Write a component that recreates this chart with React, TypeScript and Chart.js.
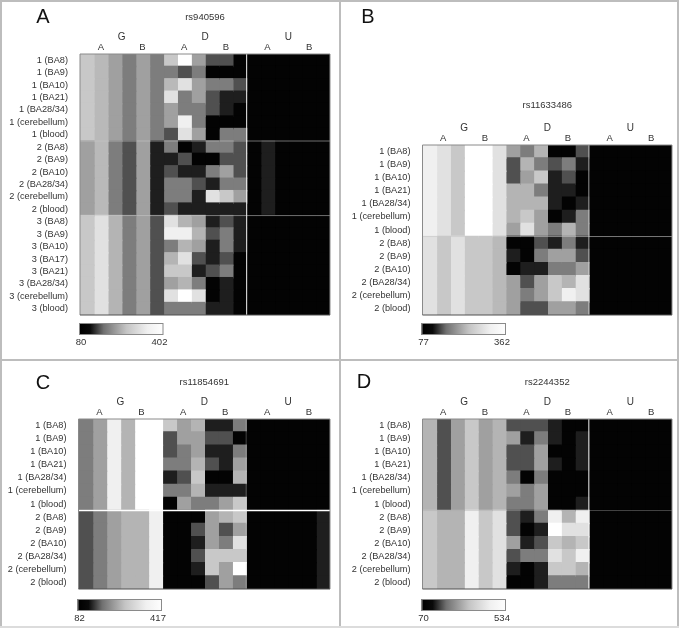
import React, { useEffect, useRef } from "react";
import { Chart, registerables } from "chart.js";

Chart.register(...registerables);

const FONT = "'Liberation Sans', Arial, sans-serif";

const rowLabelsA = [
  "1 (BA8)", "1 (BA9)", "1 (BA10)", "1 (BA21)", "1 (BA28/34)", "1 (cerebellum)", "1 (blood)",
  "2 (BA8)", "2 (BA9)", "2 (BA10)", "2 (BA28/34)", "2 (cerebellum)", "2 (blood)",
  "3 (BA8)", "3 (BA9)", "3 (BA10)", "3 (BA17)", "3 (BA21)", "3 (BA28/34)", "3 (cerebellum)", "3 (blood)",
];
const rowLabelsShort = [
  "1 (BA8)", "1 (BA9)", "1 (BA10)", "1 (BA21)", "1 (BA28/34)", "1 (cerebellum)", "1 (blood)",
  "2 (BA8)", "2 (BA9)", "2 (BA10)", "2 (BA28/34)", "2 (cerebellum)", "2 (blood)",
];
const groupLabels = ["G", "D", "U"];
const subLabels = ["A", "B"];

const valuesA = [
  [333, 314, 282, 238, 282, 238, 333, 402, 282, 181, 181, 84, 84, 84, 84, 84, 84, 84],
  [333, 314, 282, 238, 282, 238, 238, 181, 238, 84, 84, 84, 84, 84, 84, 84, 84, 84],
  [333, 314, 282, 238, 282, 238, 314, 364, 282, 238, 238, 181, 84, 84, 84, 84, 84, 84],
  [333, 314, 282, 238, 282, 238, 364, 238, 282, 181, 118, 118, 84, 84, 84, 84, 84, 84],
  [333, 314, 282, 238, 282, 238, 282, 238, 238, 181, 118, 84, 84, 84, 84, 84, 84, 84],
  [333, 314, 282, 238, 282, 238, 282, 383, 238, 84, 84, 84, 84, 84, 84, 84, 84, 84],
  [333, 314, 282, 238, 282, 238, 181, 364, 282, 84, 238, 238, 84, 84, 84, 84, 84, 84],
  [282, 314, 238, 181, 282, 118, 238, 84, 118, 238, 238, 181, 84, 118, 84, 84, 84, 84],
  [282, 314, 238, 181, 282, 118, 118, 181, 84, 84, 181, 181, 84, 118, 84, 84, 84, 84],
  [282, 314, 238, 181, 282, 118, 181, 118, 118, 238, 282, 181, 84, 118, 84, 84, 84, 84],
  [282, 314, 238, 181, 282, 118, 238, 238, 181, 118, 238, 238, 84, 118, 84, 84, 84, 84],
  [282, 314, 238, 181, 282, 118, 238, 238, 118, 364, 333, 282, 84, 118, 84, 84, 84, 84],
  [282, 314, 238, 181, 282, 118, 181, 118, 118, 118, 118, 118, 84, 118, 84, 84, 84, 84],
  [333, 364, 307, 238, 282, 181, 364, 307, 282, 118, 181, 118, 84, 84, 84, 84, 84, 84],
  [333, 364, 307, 238, 282, 181, 383, 383, 307, 181, 238, 118, 84, 84, 84, 84, 84, 84],
  [333, 364, 307, 238, 282, 181, 238, 307, 282, 118, 238, 118, 84, 84, 84, 84, 84, 84],
  [333, 364, 307, 238, 282, 181, 307, 364, 181, 118, 181, 84, 84, 84, 84, 84, 84, 84],
  [333, 364, 307, 238, 282, 181, 333, 333, 118, 181, 238, 84, 84, 84, 84, 84, 84, 84],
  [333, 364, 307, 238, 282, 181, 282, 307, 238, 84, 118, 84, 84, 84, 84, 84, 84, 84],
  [333, 364, 307, 238, 282, 181, 364, 402, 364, 84, 118, 84, 84, 84, 84, 84, 84, 84],
  [333, 364, 307, 238, 282, 181, 238, 238, 238, 118, 118, 84, 84, 84, 84, 84, 84, 84],
];

const valuesB = [
  [345, 328, 301, 362, 362, 328, 256, 217, 278, 80, 80, 166, 80, 80, 80, 80, 80, 80],
  [345, 328, 301, 362, 362, 328, 166, 278, 217, 166, 217, 111, 80, 80, 80, 80, 80, 80],
  [345, 328, 301, 362, 362, 328, 166, 256, 301, 111, 166, 80, 80, 80, 80, 80, 80, 80],
  [345, 328, 301, 362, 362, 328, 278, 278, 217, 111, 111, 80, 80, 80, 80, 80, 80, 80],
  [345, 328, 301, 362, 362, 328, 278, 278, 278, 111, 80, 111, 80, 80, 80, 80, 80, 80],
  [345, 328, 301, 362, 362, 328, 278, 301, 256, 80, 111, 217, 80, 80, 80, 80, 80, 80],
  [345, 328, 301, 362, 362, 328, 256, 328, 256, 217, 278, 217, 80, 80, 80, 80, 80, 80],
  [328, 301, 328, 301, 301, 284, 80, 80, 166, 111, 217, 111, 80, 80, 80, 80, 80, 80],
  [328, 301, 328, 301, 301, 284, 111, 80, 217, 256, 256, 166, 80, 80, 80, 80, 80, 80],
  [328, 301, 328, 301, 301, 284, 80, 111, 111, 217, 217, 256, 80, 80, 80, 80, 80, 80],
  [328, 301, 328, 301, 301, 284, 256, 166, 256, 301, 278, 328, 80, 80, 80, 80, 80, 80],
  [328, 301, 328, 301, 301, 284, 256, 217, 256, 301, 345, 328, 80, 80, 80, 80, 80, 80],
  [328, 301, 328, 301, 301, 284, 256, 166, 166, 256, 256, 217, 80, 80, 80, 80, 80, 80],
];

const valuesC = [
  [246, 292, 397, 318, 417, 417, 345, 292, 318, 121, 121, 246, 86, 86, 86, 86, 86, 86],
  [246, 292, 397, 318, 417, 417, 187, 292, 292, 187, 187, 86, 86, 86, 86, 86, 86, 86],
  [246, 292, 397, 318, 417, 417, 187, 246, 292, 121, 121, 246, 86, 86, 86, 86, 86, 86],
  [246, 292, 397, 318, 417, 417, 246, 246, 318, 187, 121, 292, 86, 86, 86, 86, 86, 86],
  [246, 292, 397, 318, 417, 417, 121, 187, 345, 86, 86, 318, 86, 86, 86, 86, 86, 86],
  [246, 292, 397, 318, 417, 417, 246, 246, 318, 121, 121, 121, 86, 86, 86, 86, 86, 86],
  [246, 292, 397, 318, 417, 417, 86, 292, 246, 246, 292, 345, 86, 86, 86, 86, 86, 86],
  [187, 246, 292, 318, 318, 397, 86, 86, 86, 292, 318, 345, 86, 86, 86, 86, 86, 121],
  [187, 246, 292, 318, 318, 397, 86, 86, 187, 292, 187, 292, 86, 86, 86, 86, 86, 121],
  [187, 246, 292, 318, 318, 397, 86, 86, 121, 292, 246, 378, 86, 86, 86, 86, 86, 121],
  [187, 246, 292, 318, 318, 397, 86, 86, 187, 345, 345, 345, 86, 86, 86, 86, 86, 121],
  [187, 246, 292, 318, 318, 397, 86, 86, 121, 345, 292, 417, 86, 86, 86, 86, 86, 121],
  [187, 246, 292, 318, 318, 397, 86, 86, 86, 187, 292, 246, 86, 86, 86, 86, 86, 121],
];

const valuesD = [
  [398, 216, 361, 434, 361, 398, 216, 216, 216, 125, 75, 75, 75, 75, 75, 75, 75, 75],
  [398, 216, 361, 434, 361, 398, 361, 125, 297, 125, 75, 125, 75, 75, 75, 75, 75, 75],
  [398, 216, 361, 434, 361, 398, 216, 216, 361, 75, 75, 125, 75, 75, 75, 75, 75, 75],
  [398, 216, 361, 434, 361, 398, 216, 216, 361, 125, 75, 125, 75, 75, 75, 75, 75, 75],
  [398, 216, 361, 434, 361, 398, 297, 75, 297, 75, 75, 75, 75, 75, 75, 75, 75, 75],
  [398, 216, 361, 434, 361, 398, 361, 297, 361, 75, 75, 75, 75, 75, 75, 75, 75, 75],
  [398, 216, 361, 434, 361, 398, 297, 297, 361, 75, 75, 125, 75, 75, 75, 75, 75, 75],
  [434, 398, 398, 507, 434, 479, 216, 125, 297, 507, 398, 507, 75, 75, 75, 75, 75, 75],
  [434, 398, 398, 507, 434, 479, 216, 75, 125, 534, 479, 479, 75, 75, 75, 75, 75, 75],
  [434, 398, 398, 507, 434, 479, 361, 125, 216, 434, 398, 434, 75, 75, 75, 75, 75, 75],
  [434, 398, 398, 507, 434, 479, 216, 297, 297, 479, 434, 507, 75, 75, 75, 75, 75, 75],
  [434, 398, 398, 507, 434, 479, 125, 75, 125, 434, 434, 398, 75, 75, 75, 75, 75, 75],
  [434, 398, 398, 507, 434, 479, 75, 75, 125, 297, 297, 297, 75, 75, 75, 75, 75, 75],
];

type Panel = {
  letter: string; title: string; labels: string[]; values: number[][];
  min: number; max: number; breaks: number[];
  box: [number, number, number, number];
  area: [number, number, number, number];
  letterAt: [number, number]; titleY: number; groupY: number;
  barY: number; sepColor: string; sepWidth: number; midLine: string;
};

const panels: Panel[] = [
  { letter: "A", title: "rs940596", labels: rowLabelsA, values: valuesA, min: 80, max: 402, breaks: [7, 13],
    box: [0, 0, 340, 360], area: [80, 54, 330, 315], letterAt: [43, 17], titleY: 17, groupY: 37,
    barY: 323, sepColor: "rgba(200,200,200,0.55)", sepWidth: 1, midLine: "#f4f4f4" },
  { letter: "B", title: "rs11633486", labels: rowLabelsShort, values: valuesB, min: 77, max: 362, breaks: [7],
    box: [340, 0, 339, 360], area: [82.5, 145, 332, 315], letterAt: [28, 17], titleY: 105, groupY: 128,
    barY: 323, sepColor: "rgba(200,200,200,0.6)", sepWidth: 1, midLine: "rgba(220,220,220,0.7)" },
  { letter: "C", title: "rs11854691", labels: rowLabelsShort, values: valuesC, min: 82, max: 417, breaks: [7],
    box: [0, 360, 340, 268], area: [78.5, 59, 330, 229], letterAt: [43, 23], titleY: 22, groupY: 42,
    barY: 239, sepColor: "#ffffff", sepWidth: 1.6, midLine: "rgba(230,230,230,0.3)" },
  { letter: "D", title: "rs2244352", labels: rowLabelsShort, values: valuesD, min: 70, max: 534, breaks: [7],
    box: [340, 360, 339, 268], area: [82.5, 59, 332, 229], letterAt: [24, 22], titleY: 22, groupY: 42,
    barY: 239, sepColor: "rgba(170,170,170,0.4)", sepWidth: 1, midLine: "#f4f4f4" },
];

function gray(v: number, min: number, max: number) {
  const g = Math.round(((v - min) / (max - min)) * 255);
  return `rgb(${g},${g},${g})`;
}

function makeChart(canvas: HTMLCanvasElement, p: Panel) {
  const [l, t, r, b] = p.area;
  const [, , bw, bh] = p.box;
  const decor = {
    id: "decor",
    afterDatasetsDraw(chart: any) {
      const c = chart.ctx;
      const { left, right, top, bottom } = chart.chartArea;
      const x = chart.scales.x;
      const y = chart.scales.y;
      c.save();
      c.fillStyle = "#fff";
      c.fillRect(left - 2, bottom + 0.5, right - left + 4, 3);
      c.strokeStyle = p.sepColor;
      c.lineWidth = p.sepWidth;
      p.breaks.forEach((n) => {
        const py = (y.getPixelForValue(n - 1) + y.getPixelForValue(n)) / 2;
        c.beginPath(); c.moveTo(left, py); c.lineTo(right, py); c.stroke();
      });
      c.strokeStyle = p.midLine;
      c.lineWidth = 1;
      const mid = x.getPixelForValue(12);
      c.beginPath(); c.moveTo(mid, top); c.lineTo(mid, bottom); c.stroke();
      c.strokeStyle = "#8a8a8a";
      c.beginPath(); c.moveTo(left, bottom); c.lineTo(left, top); c.lineTo(right, top); c.lineTo(right, bottom); c.stroke();
      c.strokeStyle = "#505050";
      c.beginPath(); c.moveTo(left, bottom); c.lineTo(right, bottom); c.stroke();

      c.fillStyle = "#333";
      c.textAlign = "center";
      c.textBaseline = "middle";
      c.font = `9.5px ${FONT}`;
      c.fillText(p.title, x.getPixelForValue(9), p.titleY);
      c.font = `10px ${FONT}`;
      groupLabels.forEach((g, i) => c.fillText(g, x.getPixelForValue(3 + i * 6), p.groupY));
      c.fillStyle = "#111";
      c.font = `20px ${FONT}`;
      c.fillText(p.letter, p.letterAt[0], p.letterAt[1]);

      const barW = 84.5;
      const grad = c.createLinearGradient(left, 0, left + barW, 0);
      grad.addColorStop(0, "#000");
      grad.addColorStop(0.12, "#0a0a0a");
      grad.addColorStop(0.28, "#707070");
      grad.addColorStop(0.55, "#c4c4c4");
      grad.addColorStop(0.8, "#f0f0f0");
      grad.addColorStop(1, "#fff");
      c.fillStyle = grad;
      c.fillRect(left - 1, p.barY, barW, 12);
      c.strokeStyle = "#8a8a8a";
      c.lineWidth = 1;
      c.strokeRect(left - 1 + 0.5, p.barY + 0.5, barW - 1, 11);
      c.fillStyle = "#333";
      c.font = `9.5px ${FONT}`;
      c.fillText(String(p.min), left - 1 + 2, p.barY + 19);
      c.fillText(String(p.max), left - 1 + barW - 4, p.barY + 19);
      c.restore();
    },
  };
  return new Chart(canvas, {
    type: "bar",
    data: {
      labels: p.labels,
      datasets: Array.from({ length: 18 }, (_, col) => ({
        label: `${groupLabels[Math.floor(col / 6)]}${col}`,
        data: p.values.map(() => [col, col + 1]),
        backgroundColor: p.values.map((row) => gray(row[col], p.min, p.max)),
        borderWidth: 0,
        inflateAmount: 0.75,
        barPercentage: 1,
        categoryPercentage: 1,
        grouped: false,
      })),
    } as any,
    options: {
      indexAxis: "y",
      animation: false,
      responsive: false,
      events: [],
      layout: { padding: { left: 0, top: 0, right: bw - r, bottom: bh - b } },
      plugins: { legend: { display: false }, tooltip: { enabled: false }, title: { display: false } },
      scales: {
        x: {
          type: "linear",
          position: "top",
          min: 0,
          max: 18,
          grid: { display: false, drawTicks: false },
          border: { display: false },
          afterBuildTicks: (s: any) => {
            s.ticks = [1.5, 4.5, 7.5, 10.5, 13.5, 16.5].map((value) => ({ value }));
          },
          afterFit: (s: any) => { s.height = t; },
          ticks: {
            autoSkip: false,
            maxRotation: 0,
            padding: 1,
            color: "#333",
            font: { family: FONT, size: 9.5 },
            callback: (_: any, i: number) => subLabels[i % 2],
          },
        },
        y: {
          type: "category",
          grid: { display: false, drawTicks: false },
          border: { display: false },
          afterFit: (s: any) => { s.width = l; },
          ticks: {
            autoSkip: false,
            padding: 12,
            color: "#333",
            font: { family: FONT, size: 9.2 },
          },
        },
      },
    } as any,
    plugins: [decor],
  });
}

function PanelChart({ p }: { p: Panel }) {
  const ref = useRef<HTMLCanvasElement>(null);
  useEffect(() => {
    const chart = makeChart(ref.current!, p);
    return () => chart.destroy();
  }, [p]);
  const [x, y, w, h] = p.box;
  return (
    <canvas ref={ref} width={w} height={h}
      style={{ position: "absolute", left: x, top: y, width: w, height: h }} />
  );
}

const line = (left: number, top: number, width: number, height: number, background = "#bdbdbd") => (
  <div style={{ position: "absolute", left, top, width, height, background }} />
);

export default function App() {
  return (
    <div style={{ position: "absolute", left: 0, top: 0, width: 679, height: 628, background: "#fff", overflow: "hidden" }}>
      {panels.map((p) => <PanelChart key={p.letter} p={p} />)}
      {line(0, 0, 679, 1.5)}
      {line(0, 0, 1.5, 628)}
      {line(677, 0, 2, 628)}
      {line(339, 0, 1.5, 628)}
      {line(0, 359, 679, 1.5)}
      {line(0, 626, 679, 2, "#dcdcdc")}
    </div>
  );
}
